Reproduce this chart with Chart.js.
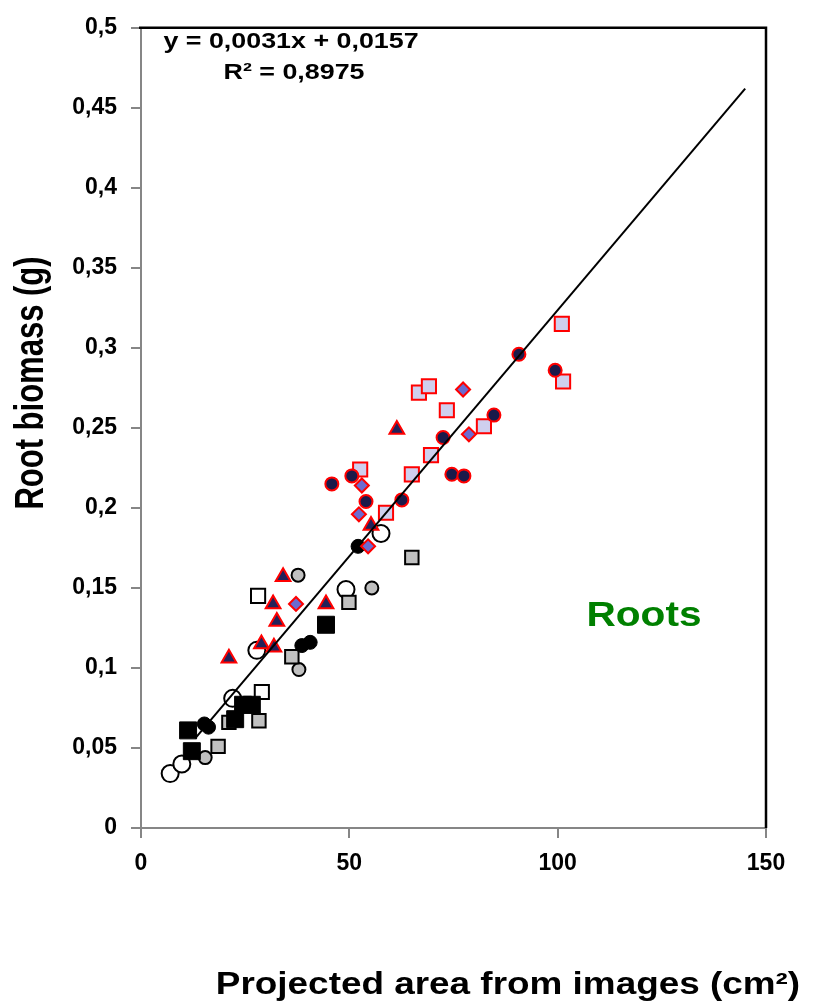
<!DOCTYPE html>
<html>
<head>
<meta charset="utf-8">
<script src="https://cdn.jsdelivr.net/npm/chart.js@4/dist/chart.umd.min.js"></script>
<style>
  html, body { margin: 0; padding: 0; background: #ffffff; }
  #wrap { position: relative; width: 817px; height: 1006px; }
</style>
</head>
<body>
<div id="wrap"><canvas id="c" width="817" height="1006"></canvas></div>
<script>
// ---- Data ----
const xTickLabels = ['0', '50', '100', '150'];
const yTickLabels = ['0', '0,05', '0,1', '0,15', '0,2', '0,25', '0,3', '0,35', '0,4', '0,45', '0,5'];

const openCircleX = [7.0, 9.8, 22.0, 27.8, 49.2, 57.6];
const openCircleY = [0.034, 0.040, 0.081, 0.111, 0.149, 0.184];

const blackCircleX = [15.2, 16.2, 38.6, 40.6, 52.1];
const blackCircleY = [0.065, 0.063, 0.114, 0.116, 0.176];

const grayCircleX = [15.4, 37.7, 37.9, 55.4];
const grayCircleY = [0.044, 0.158, 0.099, 0.150];

const openSquareX = [28.1, 29.0];
const openSquareY = [0.145, 0.085];

const blackSquareX = [11.3, 12.2, 22.6, 24.5, 26.6, 44.4];
const blackSquareY = [0.061, 0.048, 0.068, 0.077, 0.077, 0.127];

const graySquareX = [18.5, 21.1, 28.3, 36.2, 49.9, 65.0];
const graySquareY = [0.051, 0.066, 0.067, 0.107, 0.141, 0.169];

const triangleX = [21.1, 34.1, 31.7, 32.6, 28.9, 31.9, 44.4, 55.2, 61.4];
const triangleY = [0.106, 0.157, 0.140, 0.129, 0.115, 0.113, 0.140, 0.189, 0.249];

const diamondX = [37.2, 54.5, 52.3, 53.0, 77.3, 78.7];
const diamondY = [0.140, 0.176, 0.196, 0.214, 0.274, 0.246];

const navyCircleX = [45.8, 50.6, 54.0, 62.6, 72.5, 74.6, 77.5, 84.7, 90.7, 99.4];
const navyCircleY = [0.215, 0.220, 0.204, 0.205, 0.244, 0.221, 0.220, 0.258, 0.296, 0.286];

const lavenderSquareX = [52.6, 58.8, 65.0, 66.7, 69.1, 73.4, 69.6, 82.3, 101.0, 101.3];
const lavenderSquareY = [0.224, 0.197, 0.221, 0.272, 0.276, 0.261, 0.233, 0.251, 0.315, 0.279];

const trendX = [13, 145];
const trendY = [0.056, 0.462];

const equationText = 'y = 0,0031x + 0,0157';
const r2Text = 'R² = 0,8975';
const panelLabel = 'Roots';
const xTitle = 'Projected area from images (cm²)';
const yTitle = 'Root biomass (g)';

// ---- helpers ----
function pts(xs, ys) { return xs.map((x, i) => ({ x: x, y: ys[i] })); }

const AXIS_GRAY = '#868686';
const RED = '#ff0000';
const FONT = '"Liberation Sans", Arial, sans-serif';

const textPlugin = {
  id: 'texts',
  afterDraw(chart) {
    const ctx = chart.ctx;
    const a = chart.chartArea;
    ctx.save();
    ctx.strokeStyle = '#000000';
    ctx.lineWidth = 2.5;
    ctx.beginPath();
    ctx.moveTo(a.left - 2, a.top);
    ctx.lineTo(a.right, a.top);
    ctx.lineTo(a.right, a.bottom);
    ctx.stroke();
    ctx.restore();

    function stretched(txt, cx, cy, font, sx, color, rot) {
      ctx.save();
      ctx.translate(cx, cy);
      ctx.scale(sx, 1);
      if (rot) ctx.rotate(rot);
      ctx.font = font;
      ctx.fillStyle = color;
      ctx.textAlign = 'center';
      ctx.textBaseline = 'middle';
      ctx.fillText(txt, 0, 0);
      ctx.restore();
    }
    stretched(equationText, 291, 42, 'bold 22px ' + FONT, 1.22, '#000');
    stretched(r2Text, 294, 73, 'bold 22px ' + FONT, 1.22, '#000');
    stretched(panelLabel, 644, 616, 'bold 35px ' + FONT, 1.16, '#008000');
    stretched(xTitle, 508, 985, 'bold 31px ' + FONT, 1.19, '#000');
    stretched(yTitle, 32, 383, 'bold 31px ' + FONT, 1.3, '#000', -Math.PI / 2);
  }
};

const ctx = document.getElementById('c').getContext('2d');
new Chart(ctx, {
  type: 'scatter',
  data: {
    datasets: [
      { label: 'trend', type: 'line', data: pts(trendX, trendY), borderColor: '#000', borderWidth: 2,
        pointRadius: 0, fill: false, tension: 0, order: 0 },
      { label: 'navyCircle', data: pts(navyCircleX, navyCircleY), pointStyle: 'circle', pointRadius: 6.5,
        backgroundColor: '#1a1a4a', borderColor: RED, borderWidth: 2, order: 1 },
      { label: 'lavenderSquare', data: pts(lavenderSquareX, lavenderSquareY), pointStyle: 'rect', pointRadius: 10,
        backgroundColor: '#cfcfee', borderColor: RED, borderWidth: 2, order: 2 },
      { label: 'diamond', data: pts(diamondX, diamondY), pointStyle: 'rectRot', pointRadius: 7,
        backgroundColor: '#6b6bd0', borderColor: RED, borderWidth: 2, order: 3 },
      { label: 'triangle', data: pts(triangleX, triangleY), pointStyle: 'triangle', pointRadius: 8.5,
        backgroundColor: '#22225a', borderColor: RED, borderWidth: 2, order: 4 },
      { label: 'blackSquare', data: pts(blackSquareX, blackSquareY), pointStyle: 'rect', pointRadius: 12,
        backgroundColor: '#000', borderColor: '#000', borderWidth: 1, order: 5 },
      { label: 'blackCircle', data: pts(blackCircleX, blackCircleY), pointStyle: 'circle', pointRadius: 7,
        backgroundColor: '#000', borderColor: '#000', borderWidth: 1, order: 6 },
      { label: 'openSquare', data: pts(openSquareX, openSquareY), pointStyle: 'rect', pointRadius: 10,
        backgroundColor: '#fff', borderColor: '#000', borderWidth: 2, order: 7 },
      { label: 'graySquare', data: pts(graySquareX, graySquareY), pointStyle: 'rect', pointRadius: 9.5,
        backgroundColor: '#c0c0c0', borderColor: '#000', borderWidth: 2, order: 8 },
      { label: 'grayCircle', data: pts(grayCircleX, grayCircleY), pointStyle: 'circle', pointRadius: 6.5,
        backgroundColor: '#c0c0c0', borderColor: '#000', borderWidth: 2, order: 9 },
      { label: 'openCircle', data: pts(openCircleX, openCircleY), pointStyle: 'circle', pointRadius: 8.5,
        backgroundColor: '#fff', borderColor: '#000', borderWidth: 2, order: 10 }
    ]
  },
  options: {
    responsive: false,
    animation: false,
    events: [],
    layout: { padding: { left: 0, right: 51, top: 20, bottom: 0 } },
    plugins: { legend: { display: false }, tooltip: { enabled: false }, title: { display: false } },
    scales: {
      x: {
        type: 'linear', min: 0, max: 150,
        afterFit: (s) => { s.height = 178; },
        border: { display: true, color: AXIS_GRAY, width: 2 },
        grid: { display: true, drawOnChartArea: false, drawTicks: true, tickLength: 10, color: AXIS_GRAY, lineWidth: 2 },
        ticks: { stepSize: 50, padding: 12, color: '#000', maxRotation: 0,
          font: { family: FONT, weight: 'bold', size: 23 },
          callback: (v, i) => xTickLabels[i] }
      },
      y: {
        type: 'linear', min: 0, max: 0.5,
        afterFit: (s) => { s.width = 141; },
        border: { display: true, color: AXIS_GRAY, width: 2 },
        grid: { display: true, drawOnChartArea: false, drawTicks: true, tickLength: 10, color: AXIS_GRAY, lineWidth: 2 },
        ticks: { stepSize: 0.05, padding: 14, color: '#000',
          font: { family: FONT, weight: 'bold', size: 23 },
          callback: (v, i) => yTickLabels[i] }
      }
    }
  },
  plugins: [textPlugin]
});
</script>
</body>
</html>
